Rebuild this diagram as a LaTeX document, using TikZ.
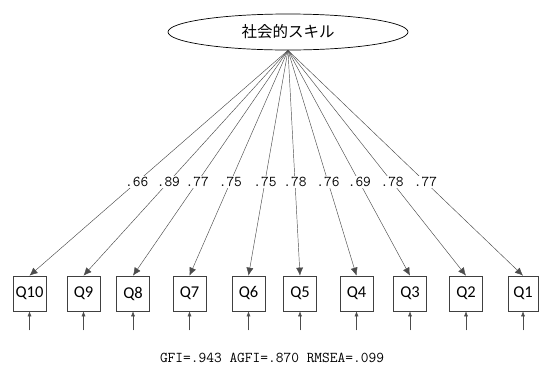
\documentclass[tikz,border=0pt]{standalone}
\usepackage{fontspec}
\newfontfamily\cjk{Noto Sans CJK JP}
\newfontfamily\qfont{Carlito}
\usetikzlibrary{shapes.geometric,arrows.meta}
\tikzset{
  factor/.style={ellipse, draw=black, line width=0.7pt, minimum width=240pt, minimum height=36pt, inner sep=0pt, font=\cjk\fontsize{15.5}{18}\selectfont},
  obsbox/.style={rectangle, draw=black!75, line width=0.7pt, minimum width=33pt, minimum height=35pt, inner sep=0pt, font=\qfont\fontsize{16.5}{18}\selectfont},
  loading/.style={draw=black!70, line width=0.45pt, -{Latex[length=8pt,width=7pt]}},
  errarrow/.style={draw=black!70, line width=0.45pt, -{Latex[length=5pt,width=4pt]}},
  coef/.style={fill=white, inner sep=1pt, font=\ttfamily\fontsize{15}{17}\selectfont},
  fitlabel/.style={font=\ttfamily\fontsize{15}{17}\selectfont}
}
\begin{document}
\begin{tikzpicture}[x=1pt,y=-1pt]
\useasboundingbox (0,0) rectangle (539,373);
\node[factor] (F) at (288,32) {社会的スキル};
\foreach \n/\x/\w in {10/29.5/33, 9/83.5/33, 8/133/33, 7/189.5/33, 6/248.5/33, 5/300/33, 4/356.5/33, 3/410/33, 2/466/33, 1/523/30}{
  \node[obsbox, minimum width=\w pt] (Q\n) at (\x,293.5) {Q\n};
  \path (Q\n.south) ++(0,19) coordinate (e\n);
  \draw[errarrow] (e\n) -- (Q\n.south);
}
\foreach \n/\l in {10/.66, 9/.89, 8/.77, 7/.75, 6/.75, 5/.78, 4/.76, 3/.69, 2/.78, 1/.77}{
  \draw[loading] (F.south) -- node[coef, pos=0.585] {\l} (Q\n.north);
}
\node[fitlabel] (fit) at (272,358) {GFI=.943 AGFI=.870 RMSEA=.099};
\end{tikzpicture}
\end{document}
